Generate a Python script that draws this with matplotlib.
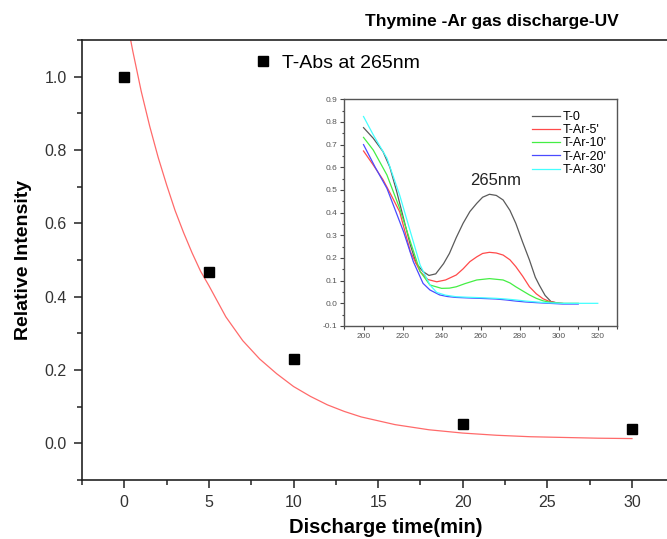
import matplotlib
matplotlib.use("Agg")
import matplotlib.pyplot as plt
from matplotlib.ticker import MultipleLocator, FormatStrFormatter

plt.rcParams['font.family'] = ['Liberation Sans', 'DejaVu Sans']

# main data: relative absorbance at 265 nm vs discharge time
time_min = [0, 5, 10, 20, 30]
rel_intensity = [1.0, 0.468, 0.229, 0.053, 0.039]

# exponential fit curve
fit_x = [0, 0.5, 1, 1.5, 2, 2.5, 3, 3.5, 4, 4.5, 5, 6, 7, 8, 9, 10, 11, 12, 13, 14, 16,
         18, 20, 22, 24, 26, 28, 30]
fit_y = [1.19, 1.07, 0.96, 0.865, 0.78, 0.705, 0.635, 0.575, 0.52, 0.47, 0.43, 0.345,
         0.28, 0.23, 0.19, 0.155, 0.128, 0.105, 0.087, 0.072, 0.051, 0.037, 0.028, 0.022,
         0.018, 0.016, 0.014, 0.013]

# inset UV spectra (wavelength nm, absorbance)
t0_nm = [200, 205, 210, 213.5, 217, 220.5, 224, 227, 230.5, 233.5, 237, 241, 244, 247.5,
         251, 254.5, 258, 261, 264.5, 268, 271.5, 275, 278, 281.5, 285, 288, 290, 293, 296, 300]
t0_abs = [0.775, 0.728, 0.669, 0.60, 0.493, 0.375, 0.257, 0.176, 0.14, 0.123, 0.13, 0.175,
          0.22, 0.29, 0.353, 0.405, 0.441, 0.468, 0.481, 0.476, 0.456, 0.41, 0.353, 0.27,
          0.191, 0.115, 0.081, 0.035, 0.008, 0.0]

t5_nm = [200, 205, 210, 214, 218.5, 224, 229, 233, 237.5, 242, 247.5, 251, 254.5, 258, 261,
         264.5, 268, 271.5, 275, 278, 281.5, 285, 288.5, 292, 295, 298.5, 302]
t5_abs = [0.672, 0.61, 0.545, 0.48, 0.404, 0.228, 0.14, 0.105, 0.095, 0.103, 0.125, 0.152,
          0.184, 0.205, 0.22, 0.225, 0.222, 0.213, 0.192, 0.162, 0.12, 0.073, 0.042, 0.02,
          0.009, 0.003, 0.0]

t10_nm = [200, 205, 212, 218.5, 224, 229, 234, 240, 244, 247.5, 252, 258, 264.5, 271.5,
          275, 278, 281.5, 285, 288.5, 292, 296, 302, 310]
t10_abs = [0.732, 0.676, 0.566, 0.419, 0.272, 0.14, 0.081, 0.066, 0.067, 0.073, 0.087,
           0.103, 0.109, 0.103, 0.09, 0.073, 0.055, 0.037, 0.022, 0.011, 0.004, 0.0, 0.0]

t20_nm = [200, 206, 212, 220.5, 225.5, 230.5, 234, 239, 243, 247.5, 253, 259.5, 268, 273,
          278, 283, 288.5, 295, 302, 310]
t20_abs = [0.70, 0.60, 0.507, 0.316, 0.184, 0.088, 0.059, 0.037, 0.03, 0.026, 0.024, 0.022,
           0.019, 0.015, 0.01, 0.006, 0.003, 0.0, -0.003, -0.003]

t30_nm = [200, 205, 212, 218.5, 224, 229, 234, 237.5, 242, 247.5, 253, 259.5, 268, 273,
          278, 283, 288.5, 295, 302, 310, 320]
t30_abs = [0.824, 0.743, 0.64, 0.478, 0.316, 0.169, 0.081, 0.048, 0.036, 0.029, 0.027,
           0.025, 0.022, 0.019, 0.015, 0.01, 0.006, 0.002, 0.0, 0.0, 0.0]

spectra = [
    (t0_nm, t0_abs, "T-0", "#5a5a5a"),
    (t5_nm, t5_abs, "T-Ar-5'", "#ff4a4a"),
    (t10_nm, t10_abs, "T-Ar-10'", "#44ee44"),
    (t20_nm, t20_abs, "T-Ar-20'", "#4a4aff"),
    (t30_nm, t30_abs, "T-Ar-30'", "#44ffff"),
]

W, H = 667, 539
fig = plt.figure(figsize=(W / 100, H / 100), dpi=100)

# main axes
ax = fig.add_axes([82 / W, (H - 480) / H, 1 - 82 / W, (480 - 40) / H])
ax.plot(fit_x, fit_y, color="#ff6a6a", lw=0.9, zorder=2)
ax.plot(time_min, rel_intensity, "s", color="black", ms=7, ls="none",
        label="T-Abs at 265nm", zorder=3)

ax.set_xlim(-2.5, 32.07)
ax.set_ylim(-0.1, 1.1)
ax.xaxis.set_major_locator(MultipleLocator(5))
ax.xaxis.set_minor_locator(MultipleLocator(2.5))
ax.yaxis.set_major_locator(MultipleLocator(0.2))
ax.yaxis.set_minor_locator(MultipleLocator(0.1))
ax.yaxis.set_major_formatter(FormatStrFormatter("%.1f"))
ax.spines["right"].set_visible(False)
for s in ["left", "bottom", "top"]:
    ax.spines[s].set_linewidth(1.2)
    ax.spines[s].set_color("#222222")
ax.tick_params(which="both", direction="out", width=1.1, color="#222222",
               labelsize=11.5, labelcolor="#333333", top=False, right=False)
ax.tick_params(which="major", length=6, pad=5)
ax.tick_params(which="minor", length=3.5)

ax.set_xlabel("Discharge time(min)", fontsize=14.5, fontweight="bold")
ax.set_ylabel("Relative Intensity", fontsize=14, fontweight="bold")
ax.xaxis.set_label_coords((386 - 82) / (W - 82), -(518 - 480) / 440)
ax.yaxis.set_label_coords(-(82 - 32) / (W - 82), 0.5)

ax.legend(loc="center left", bbox_to_anchor=(253 / W, 1 - 63 / H),
          bbox_transform=fig.transFigure, frameon=False, fontsize=14,
          handlelength=1.0, handletextpad=0.48, borderpad=0, borderaxespad=0)

fig.text(492 / W, 1 - 26 / H, "Thymine -Ar gas discharge-UV", ha="center",
         va="baseline", fontsize=12.5, fontweight="bold")

# inset axes
ins = fig.add_axes([344 / W, (H - 326) / H, (617.3 - 344) / W, (326 - 99.3) / H])
for nm, ab, lab, col in spectra:
    ins.plot(nm, ab, color=col, lw=0.9, label=lab)
ins.set_xlim(190, 330)
ins.set_ylim(-0.1, 0.9)
ins.xaxis.set_major_locator(MultipleLocator(20))
ins.xaxis.set_minor_locator(MultipleLocator(10))
ins.yaxis.set_major_locator(MultipleLocator(0.1))
ins.yaxis.set_minor_locator(MultipleLocator(0.05))
ins.yaxis.set_major_formatter(FormatStrFormatter("%.1f"))
for s in ins.spines.values():
    s.set_color("#555555")
    s.set_linewidth(1.0)
ins.tick_params(which="both", direction="out", color="#444444", width=0.8,
                labelsize=6, labelcolor="#555555", top=False, right=False)
ins.tick_params(which="major", length=3, pad=2)
ins.tick_params(which="minor", length=1.8)
ins.text(267.7, 0.541, "265nm", ha="center", va="center", fontsize=12, color="#222222")
ins.legend(loc="upper left", bbox_to_anchor=(531.7 / W, 1 - 111 / H),
           bbox_transform=fig.transFigure, frameon=False, fontsize=9,
           handlelength=2.27, handletextpad=0.2, labelspacing=0.1,
           borderpad=0, borderaxespad=0)

fig.savefig("out.png", dpi=100)
